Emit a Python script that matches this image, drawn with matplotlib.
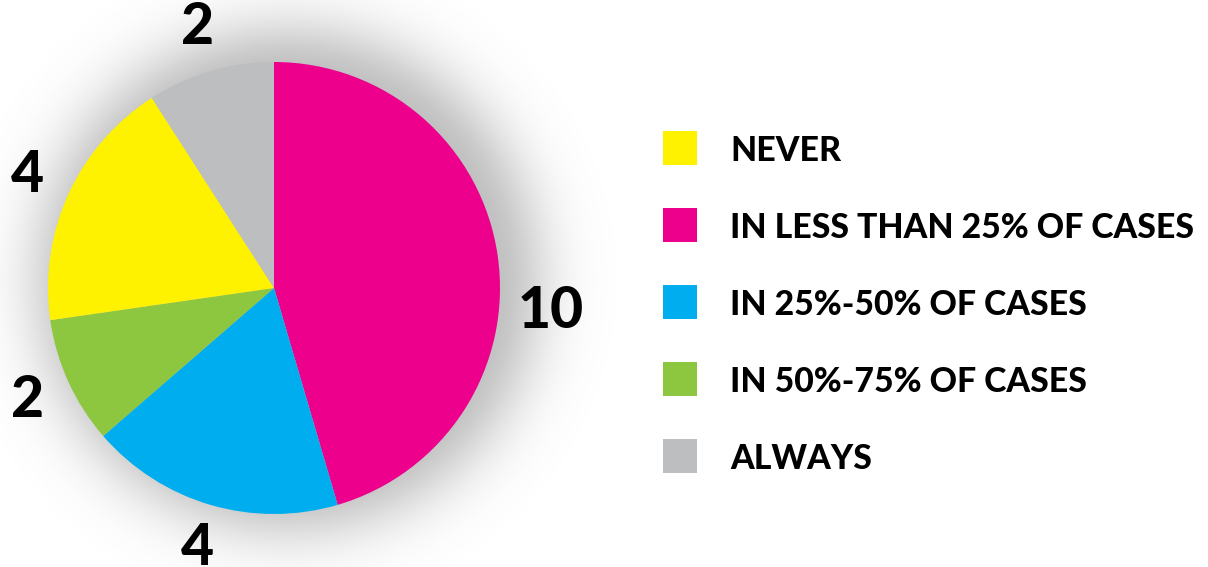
import matplotlib.pyplot as plt
import numpy as np
from matplotlib.patches import Rectangle

# legend order
categories = ['NEVER', 'IN LESS THAN 25% OF CASES', 'IN 25%-50% OF CASES',
              'IN 50%-75% OF CASES', 'ALWAYS']
counts = [4, 10, 4, 2, 2]
colors = ['#fff200', '#ec008c', '#00aeef', '#8dc63f', '#bcbec0']
# slices run clockwise from 12 o'clock in this order
pie_order = [1, 2, 3, 0, 4]

W, H = 1208, 567
fig = plt.figure(figsize=(W / 100, H / 100), dpi=100)
ax = fig.add_axes([0, 0, 1, 1])

cx, cy, r = 274, H - 288, 226

# soft drop shadow behind the pie
xx, yy = np.meshgrid(np.arange(W) + 0.5, np.arange(H) + 0.5)
d = np.hypot(xx - (cx + 14), yy - (cy + 8))
alpha = 0.42 * np.exp(-np.clip(d - (r - 20), 0, None) ** 2 / (2 * 40 ** 2))
shadow = np.zeros((H, W, 4))
shadow[..., :3] = 0.42
shadow[..., 3] = alpha
ax.imshow(shadow, extent=(0, W, 0, H), origin='lower', zorder=0,
          interpolation='bilinear')

vals = [counts[i] for i in pie_order]
cols = [colors[i] for i in pie_order]
wedges, _ = ax.pie(vals, colors=cols, startangle=90, counterclock=False,
                   center=(cx, cy), radius=r, frame=True,
                   wedgeprops=dict(linewidth=0, zorder=2))
ax.set_xlim(0, W)
ax.set_ylim(0, H)
ax.set_aspect('equal')
ax.axis('off')

font = dict(family=['Lato', 'DejaVu Sans'], fontweight='black', color='black')

for w, v in zip(wedges, vals):
    ang = (w.theta1 + w.theta2) / 2
    dist = 1.2
    if v == max(vals):
        ang = w.theta1 + 0.42 * (w.theta2 - w.theta1)
        dist = 1.23
    ang = np.deg2rad(ang)
    ax.text(cx + dist * r * np.cos(ang), cy + dist * r * np.sin(ang), str(v),
            ha='center', va='center', fontsize=41, zorder=3, **font)

# legend
for k, (lab, c) in enumerate(zip(categories, colors)):
    y = H - 148 - 77 * k
    ax.add_patch(Rectangle((663, y - 17), 34, 34, color=c, lw=0, zorder=2))
    ax.text(730, y, lab, ha='left', va='center_baseline', fontsize=24.3,
            zorder=3, **font)

fig.savefig('out.png', dpi=100, facecolor='white')
